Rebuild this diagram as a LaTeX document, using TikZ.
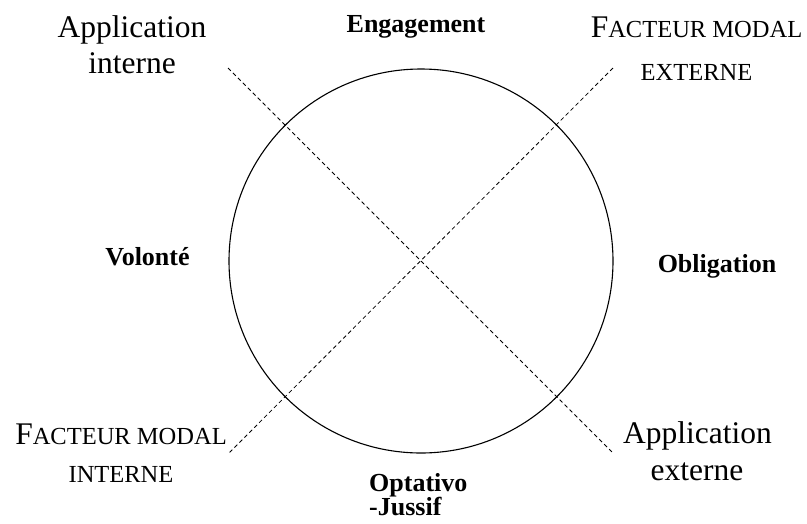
\documentclass[tikz,border=0pt]{standalone}
\usepackage{fontspec}
\setmainfont{Liberation Serif}
\newcommand\bigsz{\fontsize{31.5}{36}\selectfont}
\newcommand\smsz{\fontsize{24.5}{30}\selectfont}
\newcommand\bldsz{\fontsize{26}{24}\selectfont\bfseries}
\begin{document}
\begin{tikzpicture}[x=1pt,y=-1pt,
  lbl/.style={inner sep=0pt, anchor=base, font=\bigsz},
  sclbl/.style={inner sep=0pt, anchor=base, font=\smsz},
  bld/.style={inner sep=0pt, anchor=base, font=\bldsz},
  axis/.style={draw=black, line width=0.8pt, dash pattern=on 4pt off 3pt}]
\useasboundingbox (0,0) rectangle (807,523);
\node[circle, draw=black, line width=1.1pt, minimum size=384pt, inner sep=0pt] (c) at (421,261) {};
\coordinate (ai) at (228,68);
\coordinate (ae) at (613,453);
\coordinate (fe) at (613,68);
\coordinate (fi) at (229,453);
\draw[axis] (ai) -- (ae);
\draw[axis] (fe) -- (fi);
% top left
\node[lbl] (ai1) at (132,37) {Application};
\node[lbl] (ai2) at (132,73) {interne};
% top
\node[bld] (eng) at (416,32) {Engagement};
% top right
\node[lbl] (fe1) at (696.5,37) {F\smsz ACTEUR MODAL};
\node[sclbl] (fe2) at (696.5,80) {EXTERNE};
% sides
\node[bld] (vol) at (147.5,265) {Volonté};
\node[bld] (obl) at (717,272) {Obligation};
% bottom left
\node[lbl] (fi1) at (121,444) {F\smsz ACTEUR MODAL};
\node[sclbl] (fi2) at (121,482) {INTERNE};
% bottom right
\node[lbl] (ae1) at (697.5,443) {Application};
\node[lbl] (ae2) at (697,480) {externe};
% bottom
\node[bld, anchor=base west] (opt1) at (369,491) {Optativo};
\node[bld, anchor=base west] (opt2) at (369,515) {-Jussif};
\end{tikzpicture}
\end{document}
